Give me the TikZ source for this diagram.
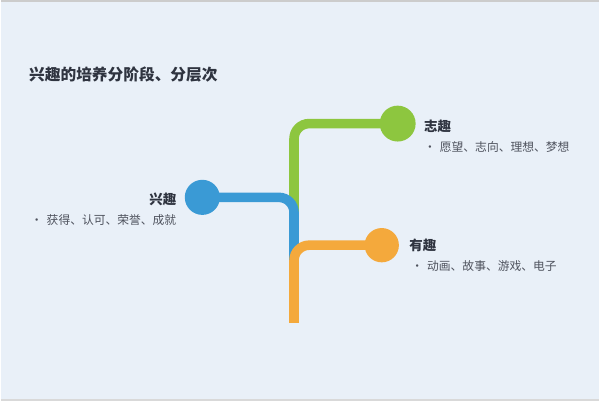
\documentclass[tikz,border=0pt]{standalone}
\usepackage{fontspec}
\usepackage{xcolor}
\usetikzlibrary{positioning}
\newfontfamily\cjk{Noto Sans CJK SC}
\definecolor{bg}{HTML}{E9F0F8}
\definecolor{lgreen}{HTML}{8DC63F}
\definecolor{lblue}{HTML}{3A9AD5}
\definecolor{lorange}{HTML}{F4A93C}
\definecolor{ink}{HTML}{2F3440}

\begin{document}
\begin{tikzpicture}[x=0.025cm, y=-0.025cm, font=\cjk]
	\fill[bg] (0,0) rectangle (600,400);
	\draw[black!20, line width=0.05cm] (0,0) -- (600,0);
	\draw[black!15, line width=0.05cm] (0,400) -- (600,400);
	\node[anchor=west, inner sep=0, text=ink, font=\cjk\bfseries\fontsize{11.2}{13}\selectfont] (title) at (28,74) {兴趣的培养分阶段、分层次};
	
	% branch ends
	\coordinate (zhiC) at (398,123);
	\coordinate (xingC) at (202,197);
	\coordinate (youC) at (382,245);
	\coordinate (gfoot) at (294,250);
	\coordinate (bfoot) at (294,262);
	\coordinate (root) at (294,323);
	
	\draw[lgreen, line width=0.24cm, rounded corners=0.38cm] (gfoot) |- (zhiC);
	\node[circle, fill=lgreen, minimum size=0.9cm, inner sep=0] (zhi) at (zhiC) {};
	\draw[lblue, line width=0.24cm, rounded corners=0.38cm] (xingC) -| (bfoot);
	\node[circle, fill=lblue, minimum size=0.88cm, inner sep=0] (xing) at (xingC) {};
	\draw[lorange, line width=0.24cm, rounded corners=0.38cm] (root) |- (youC);
	\node[circle, fill=lorange, minimum size=0.86cm, inner sep=0] (you) at (youC) {};
	
	% labels
	\node[right=0.2cm of zhi, yshift=-0.08cm, inner sep=0, text=ink, font=\cjk\bfseries\fontsize{9.6}{11}\selectfont] (zhiT) {志趣};
	\node[below=0.2cm of zhiT.south west, anchor=north west, inner sep=0, text=ink!85, font=\cjk\fontsize{8.4}{10}\selectfont] (zhiL) {•\hspace{0.1cm}愿望、志向、理想、梦想};
	\node[left=0.2cm of xing, yshift=-0.05cm, inner sep=0, text=ink, font=\cjk\bfseries\fontsize{9.6}{11}\selectfont] (xingT) {兴趣};
	\node[below=0.2cm of xingT.south east, anchor=north east, inner sep=0, text=ink!85, font=\cjk\fontsize{8.4}{10}\selectfont] (xingL) {•\hspace{0.1cm}获得、认可、荣誉、成就};
	\node[right=0.25cm of you, inner sep=0, text=ink, font=\cjk\bfseries\fontsize{9.6}{11}\selectfont] (youT) {有趣};
	\node[below=0.2cm of youT.south west, anchor=north west, inner sep=0, xshift=0.05cm, text=ink!85, font=\cjk\fontsize{8.4}{10}\selectfont] (youL) {•\hspace{0.1cm}动画、故事、游戏、电子};
\end{tikzpicture}
\end{document}
